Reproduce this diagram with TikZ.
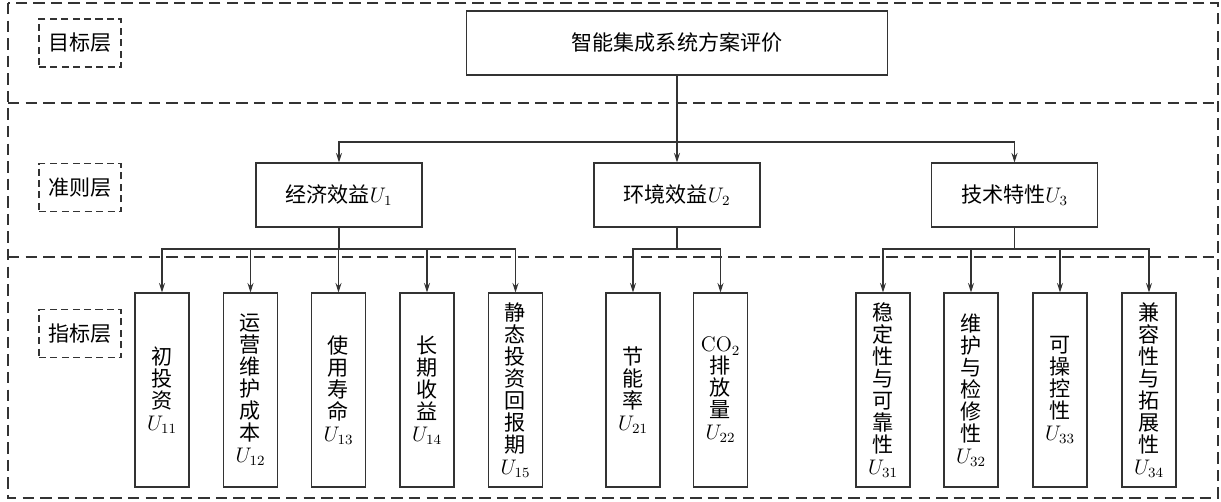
\documentclass[tikz,border=0pt]{standalone}
\usepackage{fontspec}
\newfontfamily\cjk{Noto Sans CJK SC}
\usetikzlibrary{arrows.meta}
\tikzset{
	frame/.style={draw=black!80, line width=0.6pt, dash pattern=on 6.5pt off 3.5pt},
	link/.style={draw=black!80, line width=0.6pt},
	arr/.style={link, -{Stealth[length=1.9mm, width=1.2mm]}},
	box/.style={draw=black!80, line width=0.6pt, inner sep=0pt, align=center, font=\cjk\fontsize{12pt}{12.5pt}\selectfont},
	layerbox/.style={box, dash pattern=on 4pt off 2.5pt, minimum width=1.64cm, minimum height=0.96cm},
	goalbox/.style={box, minimum width=8.44cm, minimum height=1.28cm},
	critbox/.style={box, minimum width=3.32cm, minimum height=1.28cm},
	leafbox/.style={box, minimum width=1.08cm, minimum height=3.88cm}
}

\begin{document}
\begin{tikzpicture}[x=0.02cm, y=-0.02cm]
			%%%%% START %%%%%
			\useasboundingbox (0, 0) rectangle (1221, 501);
			
			\draw[frame] (8, 3) rectangle (1218, 498);
			\draw[frame] (8, 103) -- (1218, 103);
			\draw[frame] (8, 257) -- (1218, 257);
			
			\node[layerbox] (lgoal) at (80, 43) {目标层};
			\node[layerbox] (lcrit) at (80, 187.5) {准则层};
			\node[layerbox] (lind) at (80, 333.5) {指标层};
			
			\node[goalbox] (goal) at (677, 43) {智能集成系统方案评价};
			
			\node[critbox] (u1) at (339, 195) {经济效益$U_1$};
			\node[critbox] (u2) at (677, 195) {环境效益$U_2$};
			\node[critbox] (u3) at (1014.5, 195) {技术特性$U_3$};
			
			\node[leafbox] (u11) at (162, 390) {初\\投\\资\\$U_{11}$};
			\node[leafbox] (u12) at (250.5, 390) {运\\营\\维\\护\\成\\本\\$U_{12}$};
			\node[leafbox] (u13) at (338.5, 390) {使\\用\\寿\\命\\$U_{13}$};
			\node[leafbox] (u14) at (427, 390) {长\\期\\收\\益\\$U_{14}$};
			\node[leafbox] (u15) at (515.5, 390) {静\\态\\投\\资\\回\\报\\期\\$U_{15}$};
			
			\node[leafbox] (u21) at (633, 390) {节\\能\\率\\$U_{21}$};
			\node[leafbox] (u22) at (720.5, 390) {{\rmfamily CO}$_2$\\排\\放\\量\\$U_{22}$};
			
			\node[leafbox] (u31) at (883, 390) {稳\\定\\性\\与\\可\\靠\\性\\$U_{31}$};
			\node[leafbox] (u32) at (971, 390) {维\\护\\与\\检\\修\\性\\$U_{32}$};
			\node[leafbox] (u33) at (1060, 390) {可\\操\\控\\性\\$U_{33}$};
			\node[leafbox] (u34) at (1149, 390) {兼\\容\\性\\与\\拓\\展\\性\\$U_{34}$};
			
			\coordinate (jgoal) at (goal.south |- 0, 142);
			\draw[link] (goal.south) -- (jgoal);
			\foreach \c in {u1, u2, u3}
				\draw[arr] (jgoal) -| (\c.north);
			
			\coordinate (j1) at (u1.south |- 0, 249);
			\draw[link] (u1.south) -- (j1);
			\foreach \c in {u11, u12, u13, u14, u15}
				\draw[arr] (j1) -| (\c.north);
			
			\coordinate (j2) at (u2.south |- 0, 249);
			\draw[link] (u2.south) -- (j2);
			\foreach \c in {u21, u22}
				\draw[arr] (j2) -| (\c.north);
			
			\coordinate (j3) at (u3.south |- 0, 249);
			\draw[link] (u3.south) -- (j3);
			\foreach \c in {u31, u32, u33, u34}
				\draw[arr] (j3) -| (\c.north);
			
			%%%%% END %%%%%
\end{tikzpicture}
\end{document}
